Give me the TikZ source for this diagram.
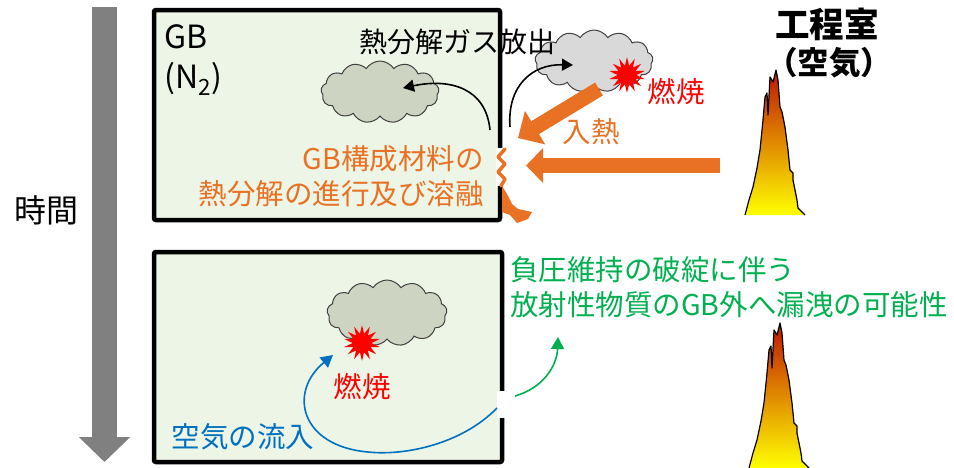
\documentclass[tikz,border=0pt]{standalone}
\usepackage{fontspec}
\setmainfont{Noto Sans CJK JP}
\usetikzlibrary{shapes.symbols,shapes.geometric,arrows.meta}

\definecolor{timegray}{RGB}{128,128,128}
\definecolor{boxfill}{RGB}{237,245,230}
\definecolor{cloudin}{RGB}{205,213,194}
\definecolor{cloudout}{RGB}{217,217,217}
\definecolor{heatorange}{RGB}{233,113,35}
\definecolor{leakgreen}{RGB}{0,176,80}
\definecolor{airblue}{RGB}{0,112,192}
\definecolor{flamered}{RGB}{192,20,0}

\tikzset{
  gbbox/.style={draw=black, line width=4.5pt, fill=boxfill, rounded corners=2pt, inner sep=0pt},
  smoke/.style={cloud, cloud puffs=13, cloud puff arc=115, aspect=2, draw=black!75, line width=1pt, inner sep=0pt},
  blast/.style={star, star points=14, star point ratio=1.9, fill=red, inner sep=0pt, minimum size=36pt},
  lbl/.style={inner sep=0pt, font=\fontsize{28.5}{35}\selectfont},
  heatarrow/.style={heatorange, line width=15pt},
  thinarrow/.style={line width=1.6pt},
  flamepic/.pic={
    \shade[top color=flamered, middle color=orange!80!red, bottom color=yellow]
      (745,215) -- (749,200) -- (753,187) -- (757,168) -- (760,150) -- (763,120) -- (765,97) -- (767,93)
      -- (768,115) -- (770,77) -- (773,82) -- (776,70) -- (778,80) -- (780,107) -- (782,112)
      -- (785,127) -- (788,150) -- (790,170) -- (793,173) -- (793,180) -- (797,200) -- (798,208)
      -- (805,215) -- cycle;
    \draw[black, line width=1.2pt, line join=round]
      (745,215) -- (749,200) -- (753,187) -- (757,168) -- (760,150) -- (763,120) -- (765,97) -- (767,93)
      -- (768,115) -- (770,77) -- (773,82) -- (776,70) -- (778,80) -- (780,107) -- (782,112)
      -- (785,127) -- (788,150) -- (790,170) -- (793,173) -- (793,180) -- (797,200) -- (798,208)
      -- (805,215);
  }
}

\begin{document}
\begin{tikzpicture}[x=1pt, y=-1pt]
\useasboundingbox (0,0) rectangle (954,467);

% time axis
\coordinate (t0) at (104.5,7);
\coordinate (t1) at (104.5,462);
\draw[timegray, line width=25pt, -{Triangle[length=25pt, width=50pt]}] (t0) -- (t1);
\node[lbl, font=\fontsize{32}{38}\selectfont] (time) at (47,210) {時間};

% glove boxes
\node[gbbox, minimum width=346pt, minimum height=210pt] (gbtop) at (327,115) {};
\node[gbbox, minimum width=348pt, minimum height=210pt] (gbbot) at (328,357) {};

% breach in the upper wall
\fill[white] (496,148) rectangle (522,186);
\draw[heatorange, line width=3.5pt, line join=round, line cap=round]
  (505,149) -- (498,157) -- (505,164) -- (498,172) -- (505,179) -- (501,186);
\fill[heatorange] (502,186) -- (507,194) -- (512,204) -- (518,209) -- (532,212) -- (528,219)
  -- (517,223) -- (510,215) -- (502,212) -- cycle;

% breach in the lower wall
\fill[white] (497,391) rectangle (521,418);

% smoke clouds
\node[smoke, fill=cloudin, minimum width=118pt, minimum height=62pt] (cl1) at (380,92) {};
\node[smoke, fill=cloudout, minimum width=118pt, minimum height=62pt] (cl2) at (594,61) {};
\node[smoke, fill=cloudin, minimum width=120pt, minimum height=66pt] (cl3) at (387,313) {};

% labels in the upper box
\node[lbl, anchor=west, align=left, font=\fontsize{32}{40}\selectfont] (gbname) at (164,60) {GB\\(N\textsubscript{2})};
\node[lbl, font=\fontsize{28}{35}\selectfont] (gaslbl) at (457,42) {熱分解ガス放出};
\node[lbl, anchor=east, align=right, text=heatorange] (matlbl) at (484,176)
  {GB構成材料の\\熱分解の進行及び溶融};

% combustion
\node[blast] (fire1) at (627,75) {};
\node[lbl, text=red] (burn1) at (676,92) {燃焼};
\node[blast] (fire2) at (362,343) {};
\node[lbl, text=red] (burn2) at (362,387) {燃焼};

% gas release arrows
\coordinate (gasA) at (490,130);
\coordinate (gasB) at (403,88);
\draw[thinarrow, -{Triangle[length=11pt, width=12pt]}] (gasA) .. controls (486,88) and (450,78) .. (gasB);
\coordinate (outA) at (510,127);
\coordinate (outB) at (573,65);
\draw[thinarrow, -{Triangle[length=11pt, width=12pt]}] (outA) .. controls (507,86) and (532,64) .. (outB);

% heat input
\coordinate (h1a) at (599,89);
\coordinate (h1b) at (518,138);
\draw[heatarrow, -{Triangle[length=20pt, width=38pt]}] (h1a) -- (h1b);
\coordinate (h2a) at (720,165.5);
\coordinate (h2b) at (526,165.5);
\draw[heatarrow, -{Triangle[length=17pt, width=34pt]}] (h2a) -- (h2b);
\node[lbl, text=heatorange] (heatlbl) at (591,132) {入熱};

% process room
\node[lbl, font=\fontsize{34.5}{40}\bfseries\selectfont] (room) at (827,24) {工程室};
\node[lbl, font=\fontsize{31.5}{38}\bfseries\selectfont] (roomair) at (829,63) {（空気）};
\pic at (0,0) {flamepic};
\pic at (4,253) {flamepic};

% lower stage: leak and air inflow
\node[lbl, anchor=west, align=left, text=leakgreen] (leaklbl) at (510,287)
  {負圧維持の破綻に伴う\\放射性物質のGB外へ漏洩の可能性};
\coordinate (leakA) at (515,396);
\coordinate (leakB) at (558,337);
\draw[leakgreen, thinarrow, -{Triangle[length=12pt, width=13pt]}] (leakA) .. controls (543,388) and (557,366) .. (leakB);
\coordinate (airA) at (497,408);
\coordinate (airB) at (333,355);
\draw[airblue, thinarrow, -{Triangle[length=12pt, width=13pt]}] (airA) .. controls (462,444) and (405,456) .. (368,452)
  .. controls (300,446) and (288,392) .. (airB);
\node[lbl, text=airblue] (airlbl) at (243,437) {空気の流入};
\end{tikzpicture}
\end{document}
